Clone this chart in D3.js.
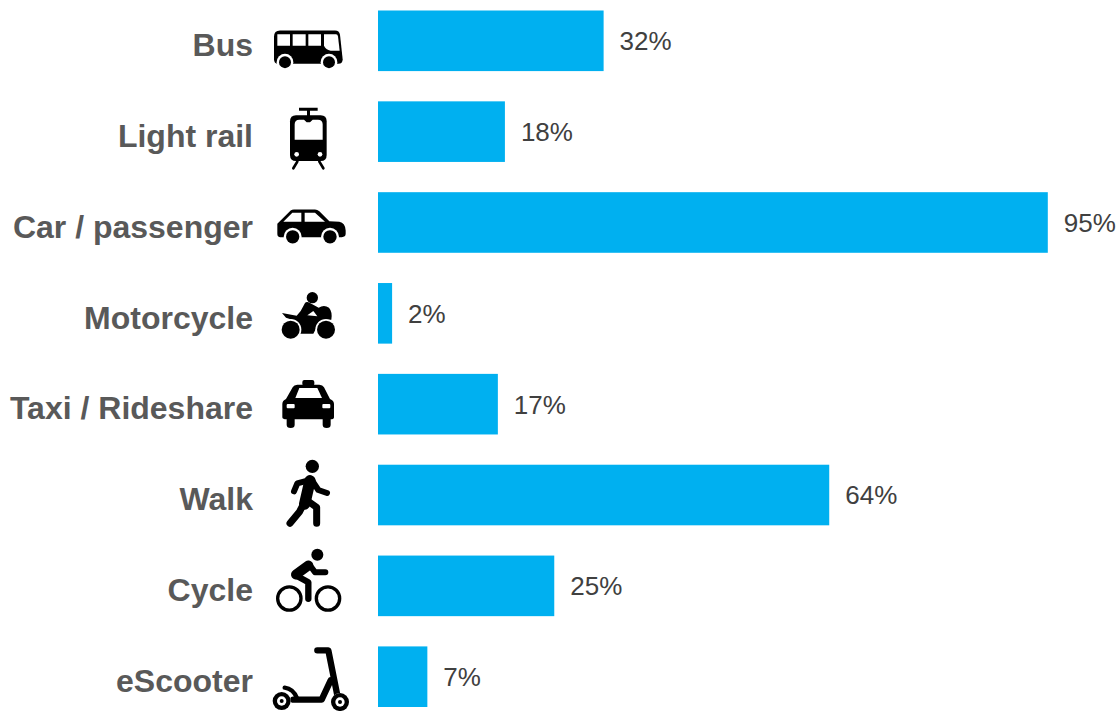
<!DOCTYPE html>
<html>
<head>
<meta charset="utf-8">
<script src="https://cdn.jsdelivr.net/npm/d3@7"></script>
<style>
  html, body { margin: 0; padding: 0; background: #fff; overflow: hidden; }
  svg { display: block; font-family: "Liberation Sans", Arial, sans-serif; }
</style>
</head>
<body>
<script>
const categories = ["Bus", "Light rail", "Car / passenger", "Motorcycle", "Taxi / Rideshare", "Walk", "Cycle", "eScooter"];
const shares = [32, 18, 95, 2, 17, 64, 25, 7];
const valueLabels = ["32%", "18%", "95%", "2%", "17%", "64%", "25%", "7%"];

const width = 1118, height = 711;

const svg = d3.select("body").append("svg")
    .attr("width", width)
    .attr("height", height);

const x = d3.scaleLinear().domain([0, 95]).range([378, 1047.8]);
const y = d3.scaleBand().domain(categories).range([10.5, 707]).paddingInner(0.333).paddingOuter(0);

// Bars
svg.selectAll(".bar")
    .data(categories)
    .join("rect")
    .attr("class", "bar")
    .attr("x", x(0))
    .attr("y", d => y(d))
    .attr("width", (d, i) => x(shares[i]) - x(0))
    .attr("height", y.bandwidth())
    .attr("fill", "#00b0f0");

// Value labels
svg.selectAll(".value")
    .data(categories)
    .join("text")
    .attr("class", "value")
    .attr("x", (d, i) => x(shares[i]) + 16)
    .attr("y", d => y(d) + y.bandwidth() / 2 + 9.4)
    .attr("font-size", 26)
    .attr("fill", "#404040")
    .text((d, i) => valueLabels[i]);

// Category labels
const axis = svg.append("g")
    .attr("transform", "translate(253,0)")
    .call(d3.axisLeft(y).tickSize(0).tickPadding(0));
axis.select(".domain").remove();
axis.selectAll("text")
    .attr("font-family", "\"Liberation Sans\", Arial, sans-serif")
    .attr("font-size", 32)
    .attr("font-weight", "bold")
    .attr("fill", "#595959")
    .attr("dy", "0.475em");

// Icons, drawn at 3x around the row centre
const ring = (g, cx, cy, r, rw) => {
    g.append("circle").attr("cx", cx).attr("cy", cy).attr("r", rw).attr("fill", "#fff");
    g.append("circle").attr("cx", cx).attr("cy", cy).attr("r", r).attr("fill", "#000");
};
const shape = (g, d, fill = "#000") => g.append("path").attr("d", d).attr("fill", fill);
const line = (g, d, w) => g.append("path").attr("d", d).attr("fill", "none")
    .attr("stroke", "#000").attr("stroke-width", w)
    .attr("stroke-linecap", "round").attr("stroke-linejoin", "round");

const icons = {
    "Bus": { cy: 123, draw: g => {
        shape(g, "M42 110Q42 92 60 92L225 92Q238 92 240 105L248 178Q248 192 235 192L55 192Q42 192 42 178Z");
        shape(g, "M52 103H90V138H52ZM98 103H137V138H98ZM145 103H183V138H145Z", "#fff");
        shape(g, "M192 103L228 103Q233 103 234 110L239 153L212 153Q197 150 192 138Z", "#fff");
        ring(g, 75, 187, 18, 25);
        ring(g, 207, 187, 18, 25);
    } },
    "Light rail": { cy: 394, draw: g => {
        shape(g, "M117 322H173V331H150V350H141V331H117Z");
        shape(g, "M108 345H182Q200 345 200 363V464Q200 482 182 482H108Q90 482 90 464V363Q90 345 108 345Z");
        shape(g, "M104 372Q104 358 118 358L132 358L140 366L150 366L158 358L174 358Q188 358 188 372L188 418L104 418Z", "#fff");
        g.append("circle").attr("cx", 110).attr("cy", 462).attr("r", 7).attr("fill", "#fff");
        g.append("circle").attr("cx", 180).attr("cy", 462).attr("r", 7).attr("fill", "#fff");
        line(g, "M112 484L100 504M178 484L190 504", 8);
    } },
    "Car / passenger": { cy: 96, draw: g => {
        shape(g, "M52 100L92 60Q96 57 102 57L165 57Q172 57 178 62L208 92L238 94Q256 98 257 120L257 130Q257 140 245 140L60 140Q52 140 52 130Z");
        shape(g, "M70 94L97 67L124 67L124 94ZM134 67L165 67L195 94L134 94Z", "#fff");
        ring(g, 98, 139, 20, 27);
        ring(g, 210, 139, 20, 27);
    } },
    "Motorcycle": { cy: 369, draw: g => {
        g.append("circle").attr("cx", 157).attr("cy", 322).attr("r", 17);
        shape(g, "M66 368L110 376L122 362L135 338Q140 332 150 338L176 352Q192 342 207 352Q218 365 214 388L180 392L160 430L120 430L108 392L78 382Z");
        shape(g, "M142 375L160 362L172 378Z", "#fff");
        ring(g, 92, 418, 27, 32);
        ring(g, 198, 418, 27, 32);
    } },
    "Taxi / Rideshare": { cy: 640.5, draw: g => {
        g.append("rect").attr("x", 127).attr("y", 568).attr("width", 36).attr("height", 18).attr("rx", 6);
        shape(g, "M67 640Q67 630 78 625L98 590Q102 582 112 582L178 582Q188 582 192 590L210 625Q222 630 222 640L222 680Q222 686 212 686L212 702Q212 712 200 712Q188 712 188 702L188 686L104 686L104 702Q104 712 92 712Q80 712 80 702L80 686Q67 686 67 680Z");
        shape(g, "M106 622L118 592L172 592L186 622Z", "#fff");
        g.append("rect").attr("x", 80).attr("y", 640).attr("width", 24).attr("height", 13).attr("rx", 3).attr("fill", "#fff");
        g.append("rect").attr("x", 187).attr("y", 640).attr("width", 24).attr("height", 13).attr("rx", 3).attr("fill", "#fff");
    } },
    "Walk": { cy: 133, draw: g => {
        g.append("circle").attr("cx", 157).attr("cy", 47).attr("r", 20);
        line(g, "M150 90L134 160", 34);
        line(g, "M128 165L118 184L90 218", 21);
        line(g, "M135 145L170 170L170 218", 21);
        line(g, "M148 88L112 98L102 122", 18);
        line(g, "M158 92L175 118L201 127", 18);
    } },
    "Cycle": { cy: 406, draw: g => {
        g.append("circle").attr("cx", 172).attr("cy", 313).attr("r", 18);
        g.append("circle").attr("cx", 88).attr("cy", 444).attr("r", 35).attr("fill", "none").attr("stroke", "#000").attr("stroke-width", 10);
        g.append("circle").attr("cx", 204).attr("cy", 444).attr("r", 35).attr("fill", "none").attr("stroke", "#000").attr("stroke-width", 10);
        line(g, "M145 345L108 372", 30);
        line(g, "M108 375L145 395L145 445", 19);
        line(g, "M150 345L165 365L196 365", 18);
    } },
    "eScooter": { cy: 679, draw: g => {
        line(g, "M172 600H205L235 750", 19);
        line(g, "M212 690L185 748H100", 19);
        line(g, "M74 712Q100 715 112 745", 13);
        ring(g, 65, 752, 27, 27);
        g.append("circle").attr("cx", 65).attr("cy", 752).attr("r", 14).attr("fill", "#fff");
        g.append("circle").attr("cx", 65).attr("cy", 752).attr("r", 6);
        ring(g, 240, 755, 27, 27);
        g.append("circle").attr("cx", 240).attr("cy", 755).attr("r", 14).attr("fill", "#fff");
        g.append("circle").attr("cx", 240).attr("cy", 755).attr("r", 6);
    } }
};

categories.forEach(c => {
    const icon = icons[c];
    const g = svg.append("g")
        .attr("class", "icon")
        .attr("transform", `translate(260,${y(c) + y.bandwidth() / 2}) scale(${1 / 3}) translate(0,${-icon.cy})`);
    icon.draw(g);
});
</script>
</body>
</html>
